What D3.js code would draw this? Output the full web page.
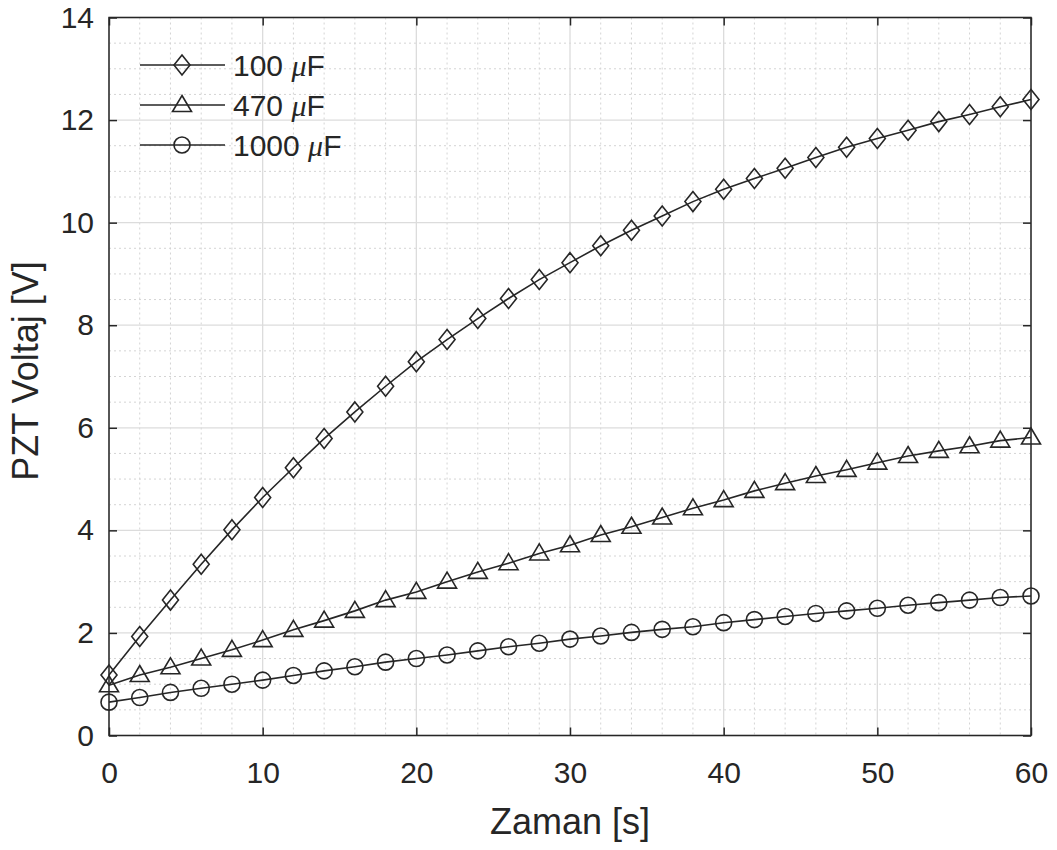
<!DOCTYPE html>
<html>
<head>
<meta charset="utf-8">
<script src="https://cdn.jsdelivr.net/npm/d3@7"></script>
<style>
  html, body { margin: 0; padding: 0; background: #fff; }
  svg { display: block; font-family: "Liberation Sans", Arial, sans-serif; }
</style>
</head>
<body>
<svg id="chart" width="1057" height="850"></svg>
<script>
// Time samples (s)
const time = [0,2,4,6,8,10,12,14,16,18,20,22,24,26,28,30,32,34,36,38,40,42,44,46,48,50,52,54,56,58,60];

// PZT voltage (V) for each storage capacitor
const v100 = [1.18,1.93,2.64,3.34,4.01,4.64,5.22,5.79,6.31,6.81,7.29,7.72,8.13,8.52,8.89,9.22,9.55,9.85,10.13,10.41,
              10.65,10.86,11.06,11.27,11.47,11.64,11.80,11.97,12.11,12.26,12.40];
const v470 = [0.98,1.18,1.33,1.50,1.67,1.86,2.06,2.24,2.43,2.64,2.80,3.00,3.19,3.36,3.55,3.71,3.91,4.07,4.25,4.43,
              4.59,4.77,4.92,5.06,5.18,5.32,5.45,5.55,5.64,5.75,5.81];
const v1000 = [0.65,0.74,0.84,0.92,1.00,1.08,1.17,1.26,1.34,1.43,1.50,1.57,1.65,1.73,1.80,1.88,1.94,2.01,2.07,2.12,
               2.20,2.26,2.32,2.38,2.43,2.48,2.54,2.59,2.64,2.69,2.72];

const seriesNames = ["100 \u03BCF", "470 \u03BCF", "1000 \u03BCF"];
const seriesMarkers = ["diamond", "triangle", "circle"];

const xTicks = [0,10,20,30,40,50,60];
const yTicks = [0,2,4,6,8,10,12,14];
const xLabel = "Zaman [s]";
const yLabel = "PZT Voltaj [V]";

const series = [v100, v470, v1000].map((vals, i) => ({
  name: seriesNames[i],
  marker: seriesMarkers[i],
  points: time.map((t, j) => ({ t, v: vals[j] }))
}));

const svg = d3.select("#chart");
const L = 109, R = 1031, T = 17.5, B = 735.5;
const ink = "#262626";

const x = d3.scaleLinear().domain([0, 60]).range([L, R]);
const y = d3.scaleLinear().domain([0, 14]).range([B, T]);

// Minor grid (dotted)
const g = svg.append("g");
g.selectAll("line.mx").data(d3.range(0, 61, 2).filter(d => d % 10 !== 0)).join("line")
  .attr("x1", d => x(d)).attr("x2", d => x(d)).attr("y1", T).attr("y2", B)
  .attr("stroke", "#d4d4d4").attr("stroke-width", 1).attr("stroke-dasharray", "2,3");
g.selectAll("line.my").data(d3.range(0, 14.01, 0.5).filter(d => d % 2 !== 0)).join("line")
  .attr("x1", L).attr("x2", R).attr("y1", d => y(d)).attr("y2", d => y(d))
  .attr("stroke", "#d4d4d4").attr("stroke-width", 1).attr("stroke-dasharray", "2,3");

// Major grid
g.selectAll("line.gx").data(xTicks).join("line")
  .attr("x1", d => x(d)).attr("x2", d => x(d)).attr("y1", T).attr("y2", B)
  .attr("stroke", "#dcdcdc").attr("stroke-width", 1.3);
g.selectAll("line.gy").data(yTicks).join("line")
  .attr("x1", L).attr("x2", R).attr("y1", d => y(d)).attr("y2", d => y(d))
  .attr("stroke", "#dcdcdc").attr("stroke-width", 1.3);

// Axes with inward ticks
const fs = "30px";
const axBottom = svg.append("g").attr("transform", `translate(0,${B})`)
  .call(d3.axisBottom(x).tickValues(xTicks).tickSizeInner(-8).tickSizeOuter(0).tickPadding(26));
const axLeft = svg.append("g").attr("transform", `translate(${L},0)`)
  .call(d3.axisLeft(y).tickValues(yTicks).tickSizeInner(-8).tickSizeOuter(0).tickPadding(15));
const axTop = svg.append("g").attr("transform", `translate(0,${T})`)
  .call(d3.axisTop(x).tickValues(xTicks).tickSizeInner(-8).tickSizeOuter(0).tickFormat(""));
const axRight = svg.append("g").attr("transform", `translate(${R},0)`)
  .call(d3.axisRight(y).tickValues(yTicks).tickSizeInner(-8).tickSizeOuter(0).tickFormat(""));
[axBottom, axLeft, axTop, axRight].forEach(a => {
  a.select(".domain").remove();
  a.selectAll(".tick line").attr("stroke", ink).attr("stroke-width", 1.5);
  a.selectAll(".tick text").attr("fill", ink).style("font-size", fs).style("font-family", "'Liberation Sans', Arial, sans-serif");
});

// Box
svg.append("rect").attr("x", L).attr("y", T).attr("width", R - L).attr("height", B - T)
  .attr("fill", "none").attr("stroke", ink).attr("stroke-width", 1.5);

// Axis titles
svg.append("text").attr("x", 570).attr("y", 834).attr("text-anchor", "middle")
  .attr("fill", ink).style("font-size", "36px").text(xLabel);
svg.append("text").attr("transform", `translate(38,371) rotate(-90)`).attr("text-anchor", "middle")
  .attr("fill", ink).style("font-size", "36px").text(yLabel);

// Marker shapes
function drawMarker(sel, type) {
  if (type === "diamond") {
    sel.append("path").attr("d", "M0,-10 L8,0 L0,10 L-8,0 Z");
  } else if (type === "triangle") {
    sel.append("path").attr("d", "M0,-9.5 L9.5,6.5 L-9.5,6.5 Z");
  } else {
    sel.append("circle").attr("r", 8);
  }
}

const line = d3.line().x(d => x(d.t)).y(d => y(d.v));
const plot = svg.append("g");
series.forEach(s => {
  plot.append("path").datum(s.points).attr("d", line)
    .attr("fill", "none").attr("stroke", ink).attr("stroke-width", 1.6);
  const m = plot.append("g").selectAll("g").data(s.points).join("g")
    .attr("transform", d => `translate(${x(d.t)},${y(d.v)})`)
    .attr("fill", "none").attr("stroke", ink).attr("stroke-width", 1.6);
  m.each(function() { drawMarker(d3.select(this), s.marker); });
});

// Legend
const leg = svg.append("g");
series.forEach((s, i) => {
  const cy = 65 + i * 40;
  leg.append("line").attr("x1", 140).attr("x2", 225).attr("y1", cy).attr("y2", cy)
    .attr("stroke", ink).attr("stroke-width", 1.6);
  const mk = leg.append("g").attr("transform", `translate(182,${cy})`)
    .attr("fill", "none").attr("stroke", ink).attr("stroke-width", 1.6);
  drawMarker(mk, s.marker);
  const parts = s.name.split(" ");
  const t = leg.append("text").attr("x", 233).attr("y", cy + 11).attr("fill", ink).style("font-size", "30px");
  t.append("tspan").text(parts[0] + " ");
  t.append("tspan").style("font-style", "italic").style("font-family", "'Liberation Serif', 'Times New Roman', serif").text("\u03BC");
  t.append("tspan").text("F");
});
</script>
</body>
</html>
